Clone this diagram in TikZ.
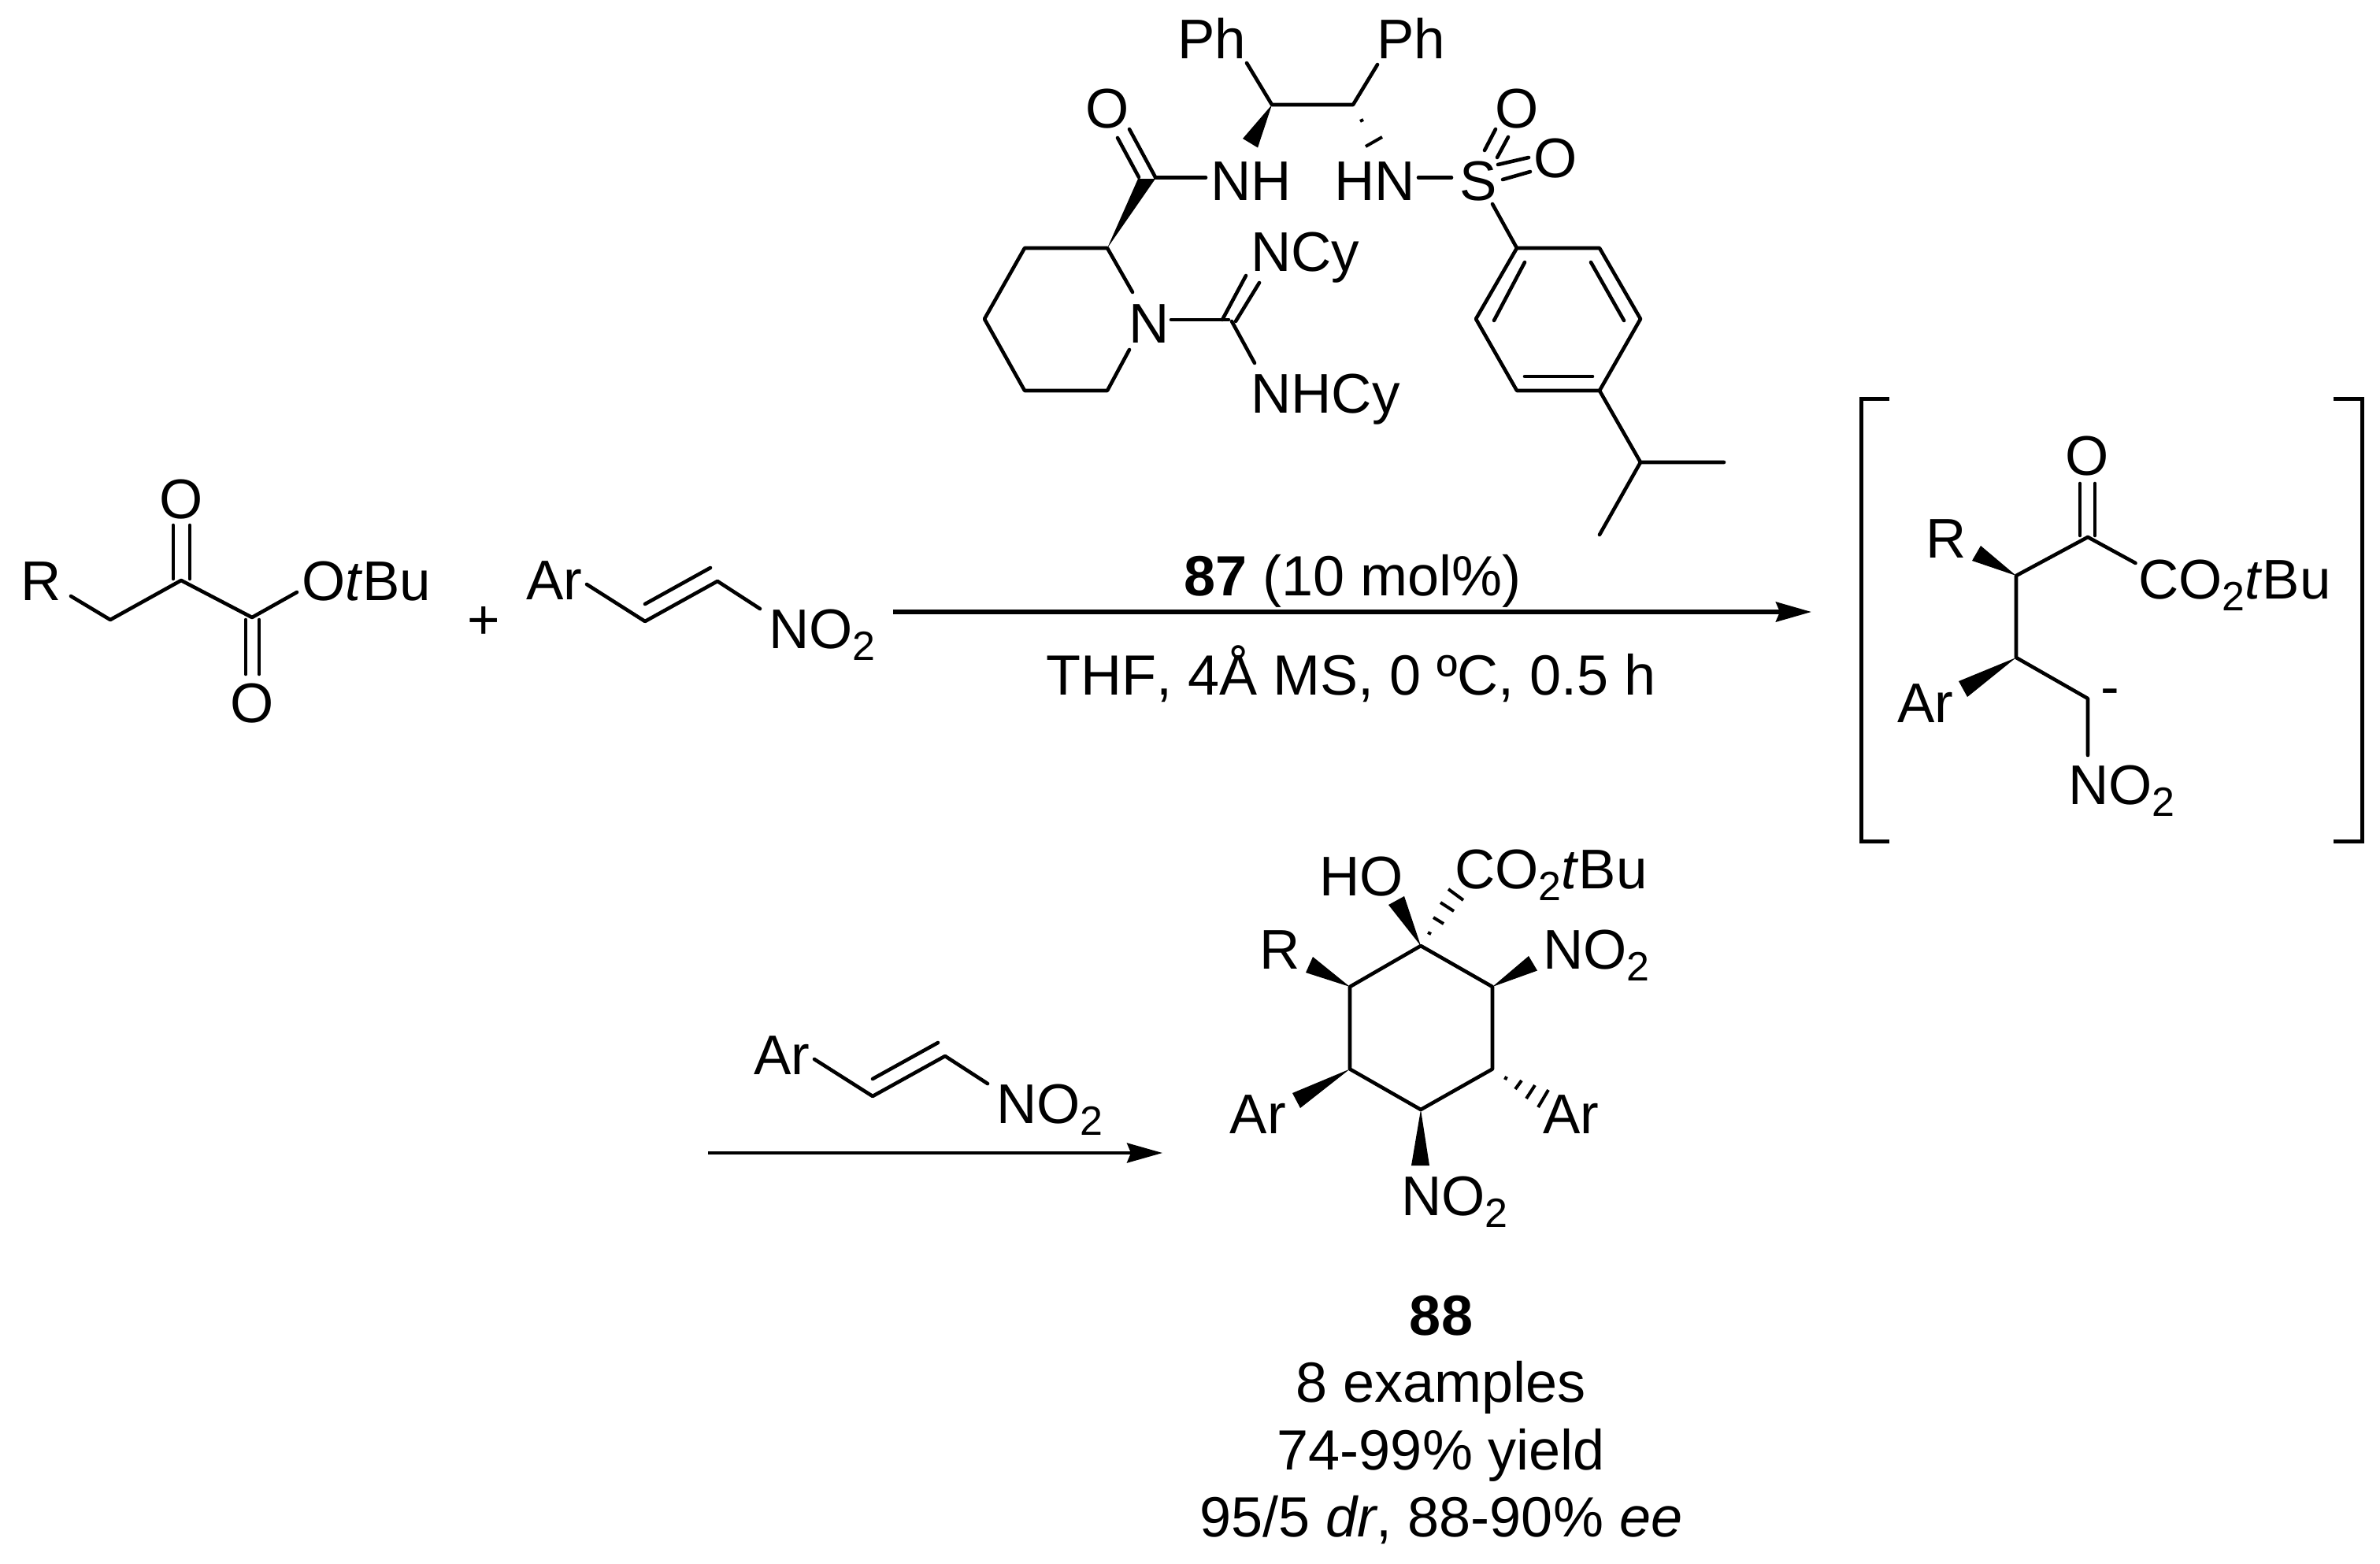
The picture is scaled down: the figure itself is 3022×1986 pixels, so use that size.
\documentclass[tikz,border=0pt]{standalone}
\usepackage{fontspec}
\setmainfont[Kerning=Off]{Liberation Sans}
\usetikzlibrary{arrows.meta}
\newcommand{\subtwo}{\raisebox{-15pt}{\fontsize{52}{52}\selectfont 2}}
\tikzset{
bond/.style={line width=4.6pt, line cap=round, line join=round},
hashbond/.style={line width=4pt},
wedgebond/.style={fill=black},
bracketline/.style={line width=5pt},
atomlabel/.style={anchor=base west, inner sep=0pt, font=\fontsize{71}{80}\selectfont},
captionlabel/.style={anchor=base, inner sep=0pt, font=\fontsize{72}{86}\selectfont},
signlabel/.style={anchor=center, inner sep=0pt, font=\fontsize{71}{80}\selectfont},
reactarrow/.style={line width=5.4pt, -{Stealth[length=45pt,width=25pt,inset=5pt]}},
nitroalkene/.pic={
  \node[atomlabel] (ar) at (-1,0) {Ar};
  \node[atomlabel] (no) at (307,62) {NO\subtwo};
  \coordinate (a) at (76,-19);
  \coordinate (b) at (150,28);
  \coordinate (c) at (242,-23);
  \coordinate (d) at (296,12);
  \draw[bond] (a) -- (b) -- (c) -- (d);
  \draw[bond] (150,6) -- (233,-40);
  }
}
\begin{document}
\begin{tikzpicture}[x=1pt,y=-1pt]
\useasboundingbox (0,0) rectangle (3022,1986);

% keto ester
\node[atomlabel] (keR) at (26,762) {R};
\node[atomlabel] (keOtbu) at (383,762) {O\textit{t}Bu};
\node[atomlabel,anchor=center] (keOa) at (230,634) {O};
\node[atomlabel,anchor=center] (keOb) at (320,893) {O};
\coordinate (keRend) at (90,757);
\coordinate (keCa) at (140,787);
\coordinate (keCb) at (230,737);
\coordinate (keCc) at (320,784);
\coordinate (keOend) at (377,752);
\draw[bond] (keRend) -- (keCa) -- (keCb) -- (keCc) -- (keOend);
\draw[bond] (220,735) -- (220,667);
\draw[bond] (241,735) -- (241,667);
\draw[bond] (312,787) -- (312,856);
\draw[bond] (329,787) -- (329,856);
\node[signlabel] (plus) at (614,791) {+};
\pic (olefinA) at (669,761) {nitroalkene};

% first arrow
\coordinate (arrowAs) at (1134,777);
\coordinate (arrowAe) at (2300,777);
\draw[reactarrow] (arrowAs) -- (arrowAe);
\node[captionlabel,anchor=base west] (condA) at (1503,756) {\textbf{87} (10 mol\%)};
\node[captionlabel,anchor=base west] (condB) at (1328,882) {THF, 4Å MS, 0 ºC, 0.5 h};

% catalyst
\node[atomlabel] (phA) at (1495,74) {Ph};
\node[atomlabel] (phB) at (1748,74) {Ph};
\node[atomlabel] (nhA) at (1537,254.5) {NH};
\node[atomlabel] (hnB) at (1694,254.5) {HN};
\node[atomlabel] (sul) at (1853,254.5) {S};
\node[atomlabel,anchor=center] (oAmide) at (1406,138) {O};
\node[atomlabel,anchor=center] (oSa) at (1926,138) {O};
\node[atomlabel,anchor=center] (oSb) at (1975,201) {O};
\node[atomlabel] (nPip) at (1433,435) {N};
\node[atomlabel] (nCy) at (1588,344) {NCy};
\node[atomlabel] (nhCy) at (1588,524.5) {NHCy};
\coordinate (phAend) at (1583,80);
\coordinate (phBend) at (1749,82);
\coordinate (cA) at (1615,133);
\coordinate (cB) at (1718,133);
\draw[bond] (phAend) -- (cA) -- (cB) -- (phBend);
\fill[wedgebond] (cA) -- (1578,176) -- (1597,187.5) -- cycle;
\draw[hashbond] (1727,154) -- (1731,152);
\draw[hashbond] (1734,186) -- (1755,174);
\coordinate (cAmide) at (1467,225.5);
\coordinate (nhAend) at (1531,225.5);
\draw[bond] (cAmide) -- (nhAend);
\draw[bond] (1419,175) -- (1446,225);
\draw[bond] (1434,164) -- (1467,225);
\coordinate (hnBend) at (1801,225.5);
\coordinate (sulEnd) at (1843,225.5);
\draw[bond] (hnBend) -- (sulEnd);
\draw[bond] (1885,191) -- (1899,164);
\draw[bond] (1901,200) -- (1915,174);
\draw[bond] (1902,209) -- (1941,200);
\draw[bond] (1908,228) -- (1943,218);
% piperidine
\coordinate (pipA) at (1406,315);
\coordinate (pipB) at (1301,315);
\coordinate (pipC) at (1250,405);
\coordinate (pipD) at (1301,496);
\coordinate (pipE) at (1406,496);
\coordinate (nPipa) at (1438,371);
\coordinate (nPipb) at (1434,444);
\draw[bond] (nPipa) -- (pipA) -- (pipB) -- (pipC) -- (pipD) -- (pipE) -- (nPipb);
\fill[wedgebond] (pipA) -- (1445,227) -- (1467,227) -- cycle;
\coordinate (nPipc) at (1487,406);
\coordinate (cGuan) at (1560,406);
\draw[bond] (nPipc) -- (cGuan);
\draw[bond] (1552,406) -- (1582,350);
\draw[bond] (1569,408) -- (1599,359);
\draw[bond] (1564,408) -- (1593,461);
% aryl ring
\coordinate (sulOut) at (1895,259);
\coordinate (arA) at (1926,315);
\coordinate (arB) at (2031,315);
\coordinate (arC) at (2083,405);
\coordinate (arD) at (2031,496);
\coordinate (arE) at (1926,496);
\coordinate (arF) at (1874,405);
\draw[bond] (arA) -- (arB) -- (arC) -- (arD) -- (arE) -- (arF) -- cycle;
\draw[bond] (sulOut) -- (arA);
\draw[bond] (1936,333) -- (1897,407);
\draw[bond] (2020,333) -- (2062,407);
\draw[bond] (1936,478) -- (2022,478);
\coordinate (ipr) at (2083,587);
\coordinate (iprA) at (2189,587);
\coordinate (iprB) at (2031,679);
\draw[bond] (arD) -- (ipr) -- (iprA);
\draw[bond] (ipr) -- (iprB);

% intermediate
\coordinate (brTlA) at (2399,506.5);
\coordinate (brTlB) at (2363,506.5);
\coordinate (brBlB) at (2363,1068);
\coordinate (brBlA) at (2399,1068);
\coordinate (brTrA) at (2963,506.5);
\coordinate (brTrB) at (2999.5,506.5);
\coordinate (brBrB) at (2999.5,1068);
\coordinate (brBrA) at (2963,1068);
\draw[bracketline] (brTlA) -- (brTlB) -- (brBlB) -- (brBlA);
\draw[bracketline] (brTrA) -- (brTrB) -- (brBrB) -- (brBrA);
\node[atomlabel,anchor=center] (imO) at (2650,579) {O};
\node[atomlabel] (imR) at (2445,708) {R};
\node[atomlabel] (imCo) at (2715,760) {CO\subtwo\textit{t}Bu};
\node[atomlabel] (imAr) at (2409,917) {Ar};
\node[atomlabel] (imNo) at (2626,1021) {NO\subtwo};
\node[signlabel] (imMinus) at (2679,886) {-};
\coordinate (imCa) at (2651,682);
\coordinate (imCb) at (2560,731);
\coordinate (imCc) at (2560,835);
\coordinate (imCd) at (2651,887);
\coordinate (imNoend) at (2651,959);
\coordinate (imCoend) at (2711.5,715);
\draw[bond] (imCoend) -- (imCa) -- (imCb) -- (imCc) -- (imCd) -- (imNoend);
\draw[bond] (2641,680) -- (2641,614);
\draw[bond] (2660,680) -- (2660,614);
\fill[wedgebond] (imCb) -- (2515,693) -- (2504,712) -- cycle;
\fill[wedgebond] (imCc) -- (2487,865) -- (2498,885) -- cycle;

% second reagent and arrow
\pic (olefinB) at (958,1364) {nitroalkene};
\coordinate (arrowBs) at (899,1464);
\coordinate (arrowBe) at (1476,1464);
\draw[reactarrow,line width=4pt] (arrowBs) -- (arrowBe);

% product
\node[atomlabel] (prHo) at (1675,1137) {HO};
\node[atomlabel] (prCo) at (1847,1128) {CO\subtwo\textit{t}Bu};
\node[atomlabel] (prNoa) at (1959,1230) {NO\subtwo};
\node[atomlabel] (prR) at (1599,1230) {R};
\node[atomlabel] (prAra) at (1561.5,1439) {Ar};
\node[atomlabel] (prArb) at (1959,1439) {Ar};
\node[atomlabel] (prNob) at (1779,1543) {NO\subtwo};
\coordinate (rgA) at (1804,1201);
\coordinate (rgB) at (1895,1253);
\coordinate (rgC) at (1895,1357.5);
\coordinate (rgD) at (1804,1409);
\coordinate (rgE) at (1714,1357.5);
\coordinate (rgF) at (1714,1253);
\draw[bond] (rgA) -- (rgB) -- (rgC) -- (rgD) -- (rgE) -- (rgF) -- cycle;
\fill[wedgebond] (rgA) -- (1763,1149) -- (1783,1138) -- cycle;
\fill[wedgebond] (rgB) -- (1941,1214) -- (1952,1232.5) -- cycle;
\fill[wedgebond] (rgF) -- (1667,1215) -- (1658,1235) -- cycle;
\fill[wedgebond] (rgE) -- (1641,1388) -- (1651,1407) -- cycle;
\fill[wedgebond] (rgD) -- (1792,1480) -- (1815,1480) -- cycle;
\draw[hashbond] (1813,1184) -- (1817,1186);
\draw[hashbond] (1820,1165) -- (1833,1173);
\draw[hashbond] (1829,1146) -- (1846,1157);
\draw[hashbond] (1839,1129) -- (1858,1143);
\draw[hashbond] (1911,1371) -- (1913,1367);
\draw[hashbond] (1924,1383) -- (1932,1372);
\draw[hashbond] (1938,1395) -- (1949,1378);
\draw[hashbond] (1953,1406) -- (1966,1384);
\node[captionlabel] (prName) at (1830,1695) {\textbf{88}};
\node[captionlabel] (prEx) at (1830,1780) {8 examples};
\node[captionlabel] (prYield) at (1830,1866) {74-99\% yield};
\node[captionlabel] (prSel) at (1830,1951) {95/5 \textit{dr}, 88-90\% \textit{ee}};
\end{tikzpicture}
\end{document}
